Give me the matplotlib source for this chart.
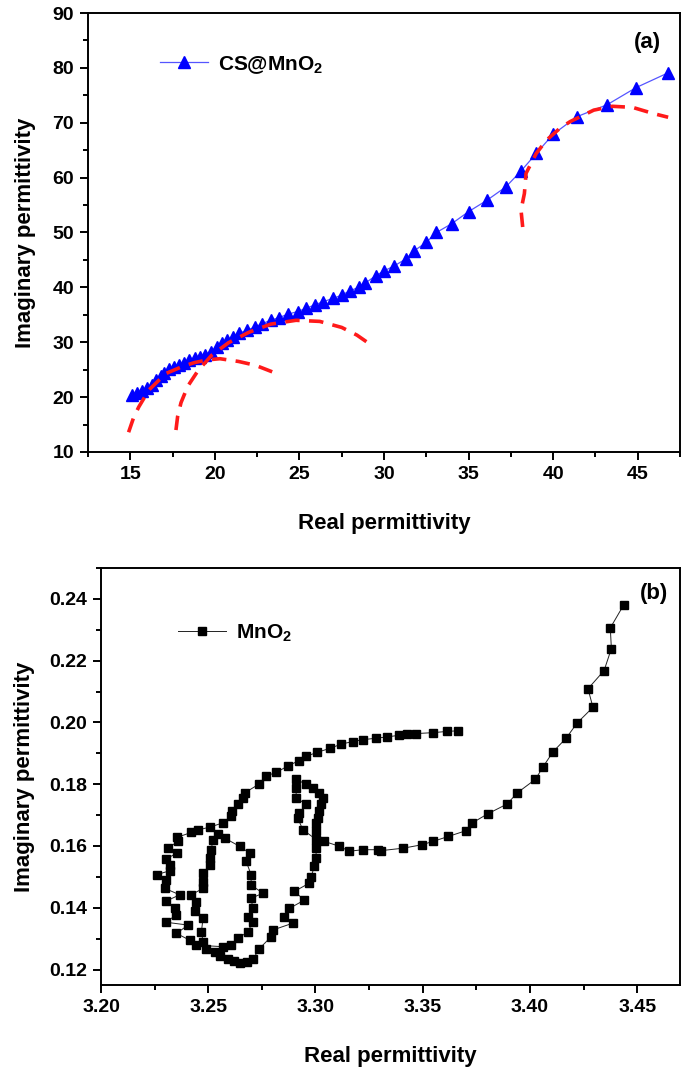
# libraries
import matplotlib
matplotlib.use("Agg")
import matplotlib.pyplot as plt
from matplotlib.ticker import MultipleLocator

# figure size in pixels
FIG_W = 685
FIG_H = 1080
DPI = 100

# CS@MnO2 measured data (real, imaginary permittivity)
cs_real = [15.1, 15.4, 15.7, 16.0, 16.3, 16.5, 16.8, 17.0, 17.3, 17.6, 17.9, 18.2,
           18.5, 18.8, 19.1, 19.4, 19.8, 20.1, 20.4, 20.7, 21.1, 21.4, 21.9, 22.4,
           22.8, 23.3, 23.8, 24.3, 24.9, 25.4, 25.9, 26.4, 27.0, 27.5, 28.0, 28.5,
           28.9, 29.5, 30.0, 30.6, 31.3, 31.8, 32.5, 33.1, 34.0, 35.0, 36.1, 37.2,
           38.1, 39.0, 40.0, 41.4, 43.2, 44.9, 46.8]
cs_imag = [20.4, 20.8, 21.2, 21.6, 22.2, 23.1, 23.8, 24.4, 25.1, 25.5, 25.8, 26.3,
           26.8, 27.1, 27.4, 27.7, 28.3, 29.2, 29.8, 30.4, 31.0, 31.6, 32.2, 32.8,
           33.4, 34.0, 34.5, 35.1, 35.6, 36.2, 36.8, 37.4, 38.0, 38.6, 39.4, 40.0,
           40.8, 42.1, 43.0, 43.9, 45.2, 46.7, 48.2, 50.0, 51.6, 53.8, 55.9, 58.3,
           61.2, 64.4, 67.9, 71.1, 73.3, 76.4, 79.1]

# red dashed cole-cole arcs
arc1_real = [14.9, 15.2, 15.5, 16.1, 17.1, 18.1, 18.8, 19.6, 20.3, 21.4, 22.4, 23.4]
arc1_imag = [13.6, 16.3, 18.2, 21.3, 24.3, 25.6, 26.3, 26.8, 27.0, 26.5, 25.8, 24.6]
arc2_real = [17.7, 17.8, 18.0, 18.4, 19.0, 19.8, 20.8, 22.0, 23.3, 24.8, 26.2, 27.5, 28.4, 29.1]
arc2_imag = [14.0, 16.5, 19.0, 22.0, 24.8, 27.6, 29.9, 31.8, 33.3, 34.0, 33.8, 32.7, 31.3, 29.8]
arc3_real = [38.2, 38.1, 38.3, 38.4, 38.7, 39.0, 39.6, 40.4, 41.0, 41.8, 42.4, 43.5, 44.7, 45.9, 46.8]
arc3_imag = [51.0, 54.1, 57.1, 60.8, 62.6, 64.4, 66.8, 69.0, 70.2, 71.4, 72.3, 73.0, 72.8, 71.7, 71.0]

# MnO2 measured data (real, imaginary permittivity), in sweep order
mn_real = [3.4437, 3.4375, 3.4380, 3.4346, 3.4271, 3.4294, 3.4220, 3.4169, 3.4108, 3.4062,
           3.4026, 3.3941, 3.3894, 3.3803, 3.3732, 3.3704, 3.3620, 3.3549, 3.3496, 3.3410,
           3.3306, 3.3290, 3.3220, 3.3158, 3.3112, 3.3041,
           3.3003, 3.3003, 3.3010, 3.3018, 3.3026, 3.3034, 3.3018, 3.2987, 3.2956, 3.2910,
           3.2910, 3.2910, 3.2956, 3.2925, 3.2917, 3.2941,
           3.3003, 3.3003, 3.3003, 3.2995, 3.2980, 3.2972, 3.2902, 3.2948, 3.2879, 3.2855,
           3.2894, 3.2801, 3.2793, 3.2739,
           3.2710, 3.2680, 3.2650, 3.2620, 3.2592, 3.2553, 3.2530,
           3.2491, 3.2476, 3.2468, 3.2476, 3.2437, 3.2445, 3.2421, 3.2476, 3.2476, 3.2476,
           3.2507, 3.2507, 3.2514, 3.2522, 3.2545,
           3.2576, 3.2646, 3.2693, 3.2677, 3.2700, 3.2700, 3.2755, 3.2700, 3.2708, 3.2685,
           3.2708, 3.2685, 3.2638, 3.2607, 3.2569,
           3.2445, 3.2414, 3.2352, 3.2406, 3.2305, 3.2349, 3.2344, 3.2305, 3.2367, 3.2297,
           3.2305, 3.2259, 3.2321, 3.2321, 3.2305, 3.2355, 3.2313, 3.2359, 3.2355, 3.2421,
           3.2452, 3.2507,
           3.2569, 3.2607, 3.2612, 3.2638, 3.2662, 3.2670, 3.2736, 3.2770, 3.2817, 3.2871,
           3.2922, 3.2957, 3.3006, 3.3068, 3.3120, 3.3174, 3.3220, 3.3282, 3.3332, 3.3388,
           3.3429, 3.3471, 3.3549, 3.3615, 3.3665]
mn_imag = [0.2380, 0.2306, 0.2239, 0.2168, 0.2109, 0.2049, 0.1998, 0.1949, 0.1905, 0.1857,
           0.1816, 0.1772, 0.1736, 0.1704, 0.1675, 0.1650, 0.1631, 0.1615, 0.1604, 0.1593,
           0.1585, 0.1588, 0.1588, 0.1583, 0.1599, 0.1615,
           0.1648, 0.1675, 0.1691, 0.1713, 0.1735, 0.1756, 0.1772, 0.1789, 0.1800, 0.1816,
           0.1789, 0.1756, 0.1735, 0.1707, 0.1691, 0.1653,
           0.1621, 0.1594, 0.1561, 0.1534, 0.1501, 0.1480, 0.1453, 0.1425, 0.1398, 0.1371,
           0.1350, 0.1328, 0.1306, 0.1268,
           0.1235, 0.1225, 0.1222, 0.1228, 0.1235, 0.1245, 0.1257,
           0.1268, 0.1290, 0.1322, 0.1366, 0.1388, 0.1420, 0.1442, 0.1463, 0.1485, 0.1512,
           0.1539, 0.1561, 0.1588, 0.1621, 0.1640,
           0.1626, 0.1599, 0.1577, 0.1550, 0.1507, 0.1474, 0.1447, 0.1431, 0.1398, 0.1371,
           0.1355, 0.1322, 0.1301, 0.1279, 0.1274,
           0.1279, 0.1295, 0.1317, 0.1344, 0.1353, 0.1377, 0.1398, 0.1422, 0.1442, 0.1463,
           0.1491, 0.1507, 0.1520, 0.1537, 0.1559, 0.1577, 0.1593, 0.1615, 0.1628, 0.1644,
           0.1652, 0.1661,
           0.1675, 0.1697, 0.1713, 0.1735, 0.1756, 0.1772, 0.1800, 0.1827, 0.1838, 0.1859,
           0.1876, 0.1890, 0.1903, 0.1916, 0.1930, 0.1938, 0.1944, 0.1949, 0.1953, 0.1958,
           0.1962, 0.1964, 0.1967, 0.1971, 0.1973]

# axis ticks
a_xticks = [15, 20, 25, 30, 35, 40, 45]
a_yticks = [10, 20, 30, 40, 50, 60, 70, 80, 90]
b_xticks = [3.20, 3.25, 3.30, 3.35, 3.40, 3.45]
b_yticks = [0.12, 0.14, 0.16, 0.18, 0.20, 0.22, 0.24]


def px_axes(fig, left, top, right, bottom):
    # make axes from pixel box (origin top left)
    return fig.add_axes([left / FIG_W, 1 - bottom / FIG_H,
                         (right - left) / FIG_W, (bottom - top) / FIG_H])


def style_axes(ax, ypad):
    # origin like frame: outward ticks on bottom and left only
    for s in ax.spines.values():
        s.set_linewidth(1.4)
    ax.tick_params(which="both", direction="out", top=False, right=False,
                   width=1.4, labelsize=14, pad=4)
    ax.tick_params(which="major", length=6)
    ax.tick_params(which="minor", length=3.5)
    for lab in ax.get_xticklabels() + ax.get_yticklabels():
        lab.set_fontweight("bold")
    ax.set_xlabel("Real permittivity", fontsize=16, fontweight="bold", labelpad=22)
    ax.set_ylabel("Imaginary permittivity", fontsize=16, fontweight="bold", labelpad=ypad)


def main():
    plt.rcParams["font.family"] = ["Liberation Sans", "DejaVu Sans"]
    plt.rcParams["mathtext.fontset"] = "custom"
    plt.rcParams["mathtext.rm"] = "Liberation Sans:bold"
    plt.rcParams["mathtext.bf"] = "Liberation Sans:bold"

    fig = plt.figure(figsize=(FIG_W / DPI, FIG_H / DPI), dpi=DPI)

    # panel (a)
    ax = px_axes(fig, 88, 13, 680, 452)
    ax.plot(cs_real, cs_imag, color="#5555ff", lw=0.9, marker="^", ms=8,
            mfc="#0000ff", mec="#0000ff", label="CS@MnO$_2$")
    dash = dict(color="#ff1a1a", lw=2.6, dashes=(4, 2.6))
    ax.plot(arc1_real, arc1_imag, **dash)
    ax.plot(arc2_real, arc2_imag, **dash)
    ax.plot(arc3_real, arc3_imag, **dash)
    ax.set_xlim(12.5, 47.5)
    ax.set_ylim(10, 90)
    ax.set_xticks(a_xticks)
    ax.set_yticks(a_yticks)
    ax.xaxis.set_minor_locator(MultipleLocator(2.5))
    ax.yaxis.set_minor_locator(MultipleLocator(5))
    style_axes(ax, 12)
    ax.legend(loc="upper left", bbox_to_anchor=(0.09, 0.95), frameon=False,
              prop=dict(size=15, weight="bold"), handlelength=2.3, handletextpad=0.5)
    ax.text(0.945, 0.932, "(a)", transform=ax.transAxes, fontsize=16,
            fontweight="bold", ha="center", va="center")

    # panel (b)
    bx = px_axes(fig, 101, 568, 680, 985)
    bx.plot(mn_real, mn_imag, color="#222222", lw=0.7, marker="s", ms=6,
            mfc="black", mec="black", label="MnO$_2$")
    bx.set_xlim(3.20, 3.47)
    bx.set_ylim(0.115, 0.25)
    bx.set_xticks(b_xticks)
    bx.set_yticks(b_yticks)
    bx.set_xticklabels(["%.2f" % v for v in b_xticks])
    bx.set_yticklabels(["%.2f" % v for v in b_yticks])
    bx.xaxis.set_minor_locator(MultipleLocator(0.025))
    bx.yaxis.set_minor_locator(MultipleLocator(0.01))
    style_axes(bx, 10)
    bx.legend(loc="upper left", bbox_to_anchor=(0.1, 0.915), frameon=False,
              prop=dict(size=15, weight="bold"), handlelength=2.3, handletextpad=0.5)
    bx.text(0.955, 0.94, "(b)", transform=bx.transAxes, fontsize=16,
            fontweight="bold", ha="center", va="center")

    fig.savefig("out.png", dpi=DPI)


# execute code only if file is not imported
if __name__ == "__main__":
    main()
